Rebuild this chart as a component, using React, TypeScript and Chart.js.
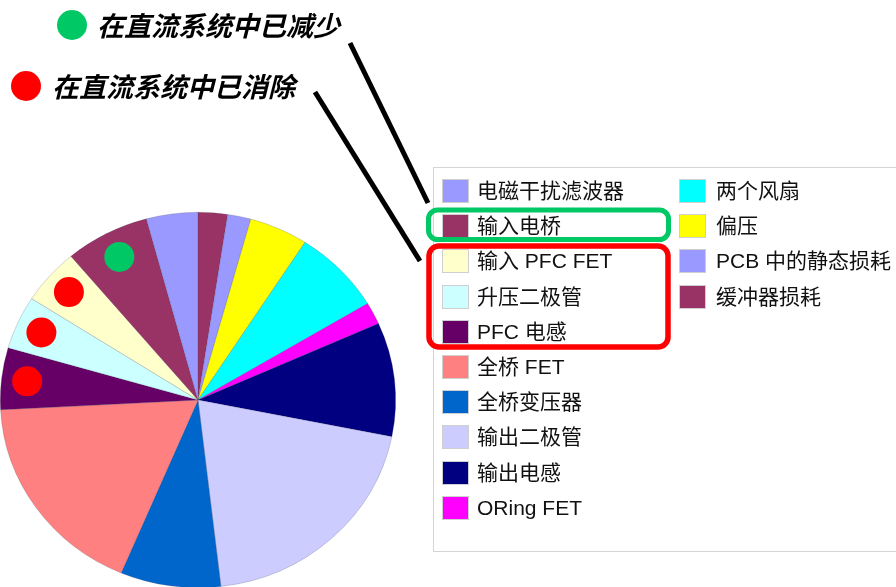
import React, { useEffect, useRef } from "react";
import { Chart, registerables } from "chart.js";

Chart.register(...registerables);

// Legend order (pie is drawn counter-clockwise from the top in this order)
const categories = [
  "电磁干扰滤波器",
  "输入电桥",
  "输入 PFC FET",
  "升压二极管",
  "PFC 电感",
  "全桥 FET",
  "全桥变压器",
  "输出二极管",
  "输出电感",
  "ORing FET",
  "两个风扇",
  "偏压",
  "PCB 中的静态损耗",
  "缓冲器损耗",
];

const lossShares = [4.2, 6.9, 4.8, 4.6, 5.3, 17.8, 8.2, 20.0, 9.8, 1.9, 7.3, 4.8, 1.9, 2.4];

const sliceColors = [
  "#9999FF",
  "#993366",
  "#FFFFCC",
  "#CCFFFF",
  "#660066",
  "#FF8080",
  "#0066CC",
  "#CCCCFF",
  "#000080",
  "#FF00FF",
  "#00FFFF",
  "#FFFF00",
  "#9999FF",
  "#993366",
];

const reducedItems = ["输入电桥"];
const eliminatedItems = ["输入 PFC FET", "升压二极管", "PFC 电感"];

const reducedNote = "在直流系统中已减少";
const eliminatedNote = "在直流系统中已消除";

const GREEN = "#00C864";
const RED = "#FF0000";
const SX = 198 / 188;
const DOT_R = 15;
const CJK = '"Liberation Sans", Arial, "Noto Sans CJK SC", sans-serif';

export default function App() {
  const canvasRef = useRef<HTMLCanvasElement | null>(null);

  useEffect(() => {
    const canvas = canvasRef.current;
    if (!canvas) return;
    const n = categories.length;
    const rev = <T,>(a: T[]) => a.slice().reverse();

    const ellipsePlugin = {
      id: "ellipse",
      beforeDatasetsDraw(chart: any) {
        const arc = chart.getDatasetMeta(0).data[0];
        if (!arc) return;
        const ctx = chart.ctx;
        ctx.save();
        ctx.translate(arc.x, arc.y);
        ctx.scale(SX, 1);
        ctx.translate(-arc.x, -arc.y);
      },
      afterDatasetsDraw(chart: any) {
        chart.ctx.restore();
        const ctx = chart.ctx;
        const meta = chart.getDatasetMeta(0);
        const drawDot = (label: string, color: string, f: number) => {
          const idx = categories.indexOf(label);
          if (idx < 0) return;
          const el = meta.data[n - 1 - idx];
          const mid = (el.startAngle + el.endAngle) / 2;
          const r = el.outerRadius * f;
          const x = el.x + SX * r * Math.cos(mid);
          const y = el.y + r * Math.sin(mid);
          ctx.save();
          ctx.beginPath();
          ctx.arc(x, y, DOT_R, 0, Math.PI * 2);
          ctx.fillStyle = color;
          ctx.fill();
          ctx.restore();
        };
        reducedItems.forEach((l) => drawDot(l, GREEN, 0.86));
        eliminatedItems.forEach((l) => drawDot(l, RED, 0.87));
      },
    };

    const chart = new Chart(canvas, {
      type: "pie",
      data: {
        labels: rev(categories),
        datasets: [
          {
            data: rev(lossShares),
            backgroundColor: rev(sliceColors),
            borderColor: "rgba(60,60,90,0.35)",
            borderWidth: 0.6,
          },
        ],
      },
      options: {
        responsive: false,
        animation: false,
        layout: { padding: { left: 10, right: 510, top: 212, bottom: 32 } },
        plugins: {
          legend: { display: false },
          tooltip: { enabled: false },
        },
      },
      plugins: [ellipsePlugin],
    });
    return () => chart.destroy();
  }, []);

  const rowTop = 179;
  const rowStep = 35.2;
  const perCol = 10;
  const colSwatchX = [442, 679];
  const colTextX = [477, 716];

  const noteStyle: React.CSSProperties = {
    position: "absolute",
    lineHeight: "28px",
    fontSize: 27,
    fontStyle: "italic",
    fontWeight: 700,
    fontFamily: '"Noto Sans CJK SC", sans-serif',
    color: "#000",
    whiteSpace: "nowrap",
  };

  return (
    <div
      style={{
        position: "absolute",
        left: 0,
        top: 0,
        width: 896,
        height: 587,
        overflow: "hidden",
        background: "#fff",
      }}
    >
      <canvas
        ref={canvasRef}
        width={896}
        height={620}
        style={{ position: "absolute", left: 0, top: 0, width: 896, height: 620 }}
      />
      {/* legend box */}
      <div
        style={{
          position: "absolute",
          left: 433,
          top: 167,
          width: 520,
          height: 385,
          border: "1px solid #d4d4d4",
          boxSizing: "border-box",
        }}
      />
      {categories.map((c, i) => {
        const col = Math.floor(i / perCol);
        const row = i % perCol;
        const top = rowTop + row * rowStep;
        return (
          <React.Fragment key={c}>
            <div
              style={{
                position: "absolute",
                left: colSwatchX[col],
                top,
                width: 27,
                height: 24,
                background: sliceColors[i],
                border: "1px solid #cfcfcf",
                boxSizing: "border-box",
              }}
            />
            <div
              style={{
                position: "absolute",
                left: colTextX[col],
                top: top - 1,
                height: 26,
                lineHeight: "26px",
                fontSize: 21,
                fontFamily: CJK,
                color: "#111",
                whiteSpace: "nowrap",
              }}
            >
              {c}
            </div>
          </React.Fragment>
        );
      })}
      {/* annotations */}
      <svg
        width={896}
        height={587}
        style={{ position: "absolute", left: 0, top: 0 }}
      >
        <line x1={350} y1={43} x2={428} y2={203} stroke="#000" strokeWidth={5} />
        <line x1={315} y1={92} x2={420} y2={261} stroke="#000" strokeWidth={5} />
        <rect x={428.5} y={210} width={240} height={29.5} rx={9} ry={9} fill="none" stroke={GREEN} strokeWidth={5} />
        <rect x={429} y={246} width={239} height={101} rx={10} ry={10} fill="none" stroke={RED} strokeWidth={5.5} />
        <circle cx={72} cy={25} r={15} fill={GREEN} />
        <circle cx={26} cy={86} r={15} fill={RED} />
      </svg>
      <div style={{ ...noteStyle, left: 97, top: 11 }}>{reducedNote}</div>
      <div style={{ ...noteStyle, left: 52, top: 72 }}>{eliminatedNote}</div>
    </div>
  );
}
